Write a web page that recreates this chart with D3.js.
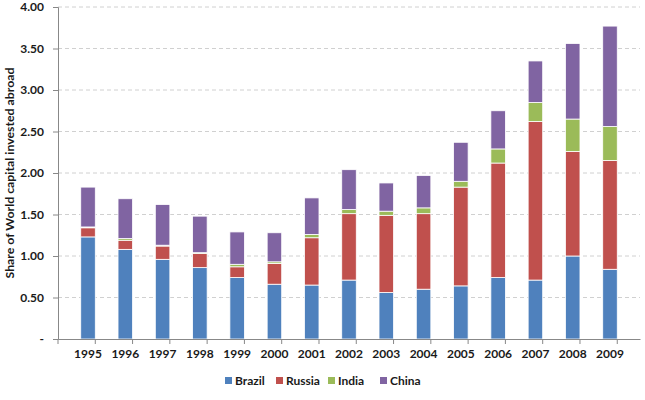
<!DOCTYPE html>
<html>
<head>
<meta charset="utf-8">
<script src="https://cdn.jsdelivr.net/npm/d3@7"></script>
<style>
  body { margin: 0; background: #fff; }
  text { font-family: Lato, "Open Sans", sans-serif; font-weight: bold; fill: #1a1a1a; }
</style>
</head>
<body>
<div id="chart"></div>
<script>
// Data
const years = ["1995", "1996", "1997", "1998", "1999", "2000", "2001", "2002",
  "2003", "2004", "2005", "2006", "2007", "2008", "2009"];
const brazil = [1.23, 1.08, 0.96, 0.86, 0.74, 0.66, 0.65, 0.71, 0.56, 0.60, 0.64, 0.74, 0.71, 1.00, 0.84];
const russia = [0.11, 0.11, 0.16, 0.17, 0.13, 0.25, 0.57, 0.80, 0.93, 0.91, 1.19, 1.38, 1.91, 1.26, 1.31];
const india  = [0.01, 0.02, 0.01, 0.01, 0.03, 0.02, 0.04, 0.05, 0.05, 0.07, 0.07, 0.17, 0.23, 0.39, 0.41];
const china  = [0.48, 0.48, 0.49, 0.44, 0.39, 0.35, 0.44, 0.48, 0.34, 0.39, 0.47, 0.46, 0.50, 0.91, 1.21];
const yTicks = [0, 0.5, 1, 1.5, 2, 2.5, 3, 3.5, 4];

const seriesNames = ["Brazil", "Russia", "India", "China"];
const colors = ["#4F81BD", "#C0504D", "#9BBB59", "#8064A2"];

const width = 645, height = 400;
const margin = { top: 7, right: 5, bottom: 61, left: 58 };

const rows = years.map((y, i) => ({
  year: y, Brazil: brazil[i], Russia: russia[i], India: india[i], China: china[i]
}));
const stacked = d3.stack().keys(seriesNames)(rows);

const svg = d3.select("#chart").append("svg")
  .attr("width", width)
  .attr("height", height);

const x = d3.scaleBand()
  .domain(years)
  .range([margin.left, width - margin.right])
  .padding(0.61);

const y = d3.scaleLinear()
  .domain([0, 4])
  .range([height - margin.bottom, margin.top]);

// gridlines
svg.append("g")
  .selectAll("line")
  .data(yTicks.slice(1))
  .join("line")
  .attr("x1", margin.left)
  .attr("x2", width - margin.right)
  .attr("y1", d => y(d))
  .attr("y2", d => y(d))
  .attr("stroke", "#d0d0d0")
  .attr("stroke-dasharray", "4,3");

// bars
svg.append("g")
  .selectAll("g")
  .data(stacked)
  .join("g")
  .attr("fill", (d, i) => colors[i])
  .selectAll("rect")
  .data(d => d)
  .join("rect")
  .attr("x", d => x(d.data.year))
  .attr("width", x.bandwidth())
  .attr("y", d => y(d[1]))
  .attr("height", d => y(d[0]) - y(d[1]))
  .attr("stroke", "#fff")
  .attr("stroke-width", 0.8);

// y axis
const yAxis = svg.append("g")
  .attr("transform", `translate(${margin.left},0)`)
  .call(d3.axisLeft(y).tickValues(yTicks)
    .tickFormat(d => d === 0 ? "-" : d3.format(".2f")(d))
    .tickSize(5).tickPadding(9));
yAxis.select(".domain").attr("stroke", "#888");
yAxis.selectAll(".tick line").attr("stroke", "#888");
yAxis.selectAll("text").style("font-size", "12px").attr("fill", "#1a1a1a");

// x axis, ticks drawn on category boundaries
const xAxis = svg.append("g")
  .attr("transform", `translate(0,${y(0)})`)
  .call(d3.axisBottom(x).tickSize(0).tickPadding(10));
xAxis.select(".domain").attr("stroke", "#888");
xAxis.selectAll("text").style("font-size", "12px").attr("fill", "#1a1a1a");

svg.append("g")
  .selectAll("line")
  .data(d3.range(years.length + 1))
  .join("line")
  .attr("x1", i => margin.left + i * x.step())
  .attr("x2", i => margin.left + i * x.step())
  .attr("y1", y(0))
  .attr("y2", y(0) + 5)
  .attr("stroke", "#888");

// y axis title
svg.append("text")
  .attr("transform", `translate(14,${(y(0) + y(4)) / 2}) rotate(-90)`)
  .attr("text-anchor", "middle")
  .attr("textLength", 211)
  .attr("lengthAdjust", "spacingAndGlyphs")
  .style("font-size", "11px")
  .text("Share of World capital invested abroad");

// legend
const legendX = [225, 276, 328, 380];
const legend = svg.append("g")
  .selectAll("g")
  .data(seriesNames)
  .join("g")
  .attr("transform", (d, i) => `translate(${legendX[i]},381)`);
legend.append("rect")
  .attr("x", 0).attr("y", -4)
  .attr("width", 7).attr("height", 7)
  .attr("fill", (d, i) => colors[i]);
legend.append("text")
  .attr("x", 10).attr("y", 0)
  .attr("dy", "0.35em")
  .style("font-size", "12px")
  .text(d => d);
</script>
</body>
</html>
